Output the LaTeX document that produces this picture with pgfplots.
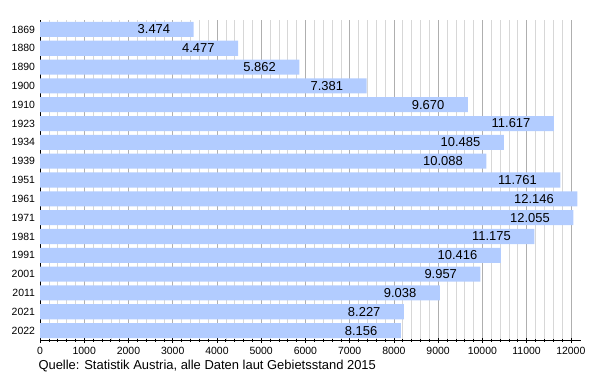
\documentclass[border=0pt]{standalone}
\usepackage{pgfplots}
\usepackage{pgfplotstable}
\pgfplotsset{compat=1.18}
\usepackage{fontspec}
\setmainfont{Liberation Sans}
\definecolor{barblue}{RGB}{178,204,255}
\definecolor{majgrid}{RGB}{175,175,175}
\definecolor{mingrid}{RGB}{215,215,215}
\pgfplotstableread{
idx val lab
0 3474 3.474
1 4477 4.477
2 5862 5.862
3 7381 7.381
4 9670 9.670
5 11617 11.617
6 10485 10.485
7 10088 10.088
8 11761 11.761
9 12146 12.146
10 12055 12.055
11 11175 11.175
12 10416 10.416
13 9957 9.957
14 9038 9.038
15 8227 8.227
16 8156 8.156
}\datatable
\begin{document}
\begin{tikzpicture}
\useasboundingbox (-40bp,-40bp) rectangle (560bp,340bp);
\begin{axis}[
  at={(0,0)}, anchor=south west,
  scale only axis, width=541bp, height=320bp,
  xbar, bar width=0.8,
  xmin=0, xmax=12230,
  ymin=-0.5, ymax=16.5,
  y dir=reverse,
  axis x line*=bottom, axis y line*=left,
  axis line style={black, line width=0.7pt},
  xtick={0,1000,...,12000},
  minor x tick num=4,
  xmajorgrids, xminorgrids,
  major grid style={majgrid, line width=0.6pt},
  minor grid style={mingrid, line width=0.5pt},
  tick align=center,
  major tick length=5bp, minor tick length=3bp,
  xtick style={black, line width=0.6pt},
  scaled x ticks=false,
  xticklabel style={font=\fontsize{10.5}{11}\selectfont, yshift=-1bp},
  /pgf/number format/assume math mode=true,
  /pgf/number format/set thousands separator={},
  ytick={0,...,16},
  yticklabels={1869,1880,1890,1900,1910,1923,1934,1939,1951,1961,1971,1981,1991,2001,2011,2021,2022},
  yticklabel style={font=\fontsize{10.5}{11}\selectfont, xshift=1bp},
  ytick style={draw=none},
  nodes near coords,
  point meta=explicit symbolic,
  every node near coord/.append style={anchor=east, xshift=-20bp, font=\fontsize{13}{14}\selectfont, text=black},
  clip=false,
]
\addplot[fill=barblue, draw=none] table[x=val, y=idx, meta=lab] {\datatable};
\end{axis}
\node[anchor=west, font=\fontsize{13}{14}\selectfont] at (-5bp,-26bp) {Quelle: Statistik Austria, alle Daten laut Gebietsstand 2015};
\end{tikzpicture}
\end{document}
